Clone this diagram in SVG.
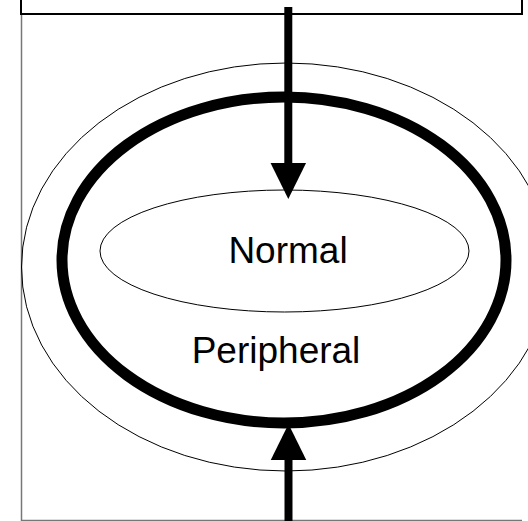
<svg xmlns="http://www.w3.org/2000/svg" width="528" height="521" viewBox="0 0 528 521">
<style>
.thin{fill:none;stroke:#000;stroke-width:1}
.thick{fill:none;stroke:#000;stroke-width:11}
.frame{fill:none;stroke:#777;stroke-width:1.5}
.lbl{font-family:"Liberation Sans",Arial,sans-serif;font-size:37px;fill:#000;text-anchor:middle}
.conn{fill:none;stroke:#000;stroke-width:8}
</style>
<defs>
<marker id="ah" markerUnits="userSpaceOnUse" markerWidth="37" markerHeight="36" refX="0" refY="17.75" orient="auto" overflow="visible">
<path d="M0,0 L36,17.75 L0,35.5 z" fill="#000"/>
</marker>
</defs>
<rect fill="#fff" width="528" height="521"/>
<g id="frame">
<path class="frame" d="M21.5,14 V520.5 H522"/>
<rect x="21" y="-10" width="501" height="24" fill="none" stroke="#000" stroke-width="2"/>
</g>
<g id="outer">
<ellipse class="thin" cx="286" cy="267" rx="264.5" ry="204"/>
</g>
<g id="peripheral">
<ellipse class="thick" cx="284" cy="260" rx="222" ry="163"/>
<text class="lbl" x="276" y="363">Peripheral</text>
</g>
<g id="normal">
<ellipse class="thin" cx="284.5" cy="251" rx="184.5" ry="61"/>
<text class="lbl" x="288" y="263">Normal</text>
</g>
<g id="connectors">
<path class="conn" d="M288.3,7 V163" marker-end="url(#ah)"/>
<path class="conn" d="M288.5,521 V460" marker-end="url(#ah)"/>
</g>
</svg>
